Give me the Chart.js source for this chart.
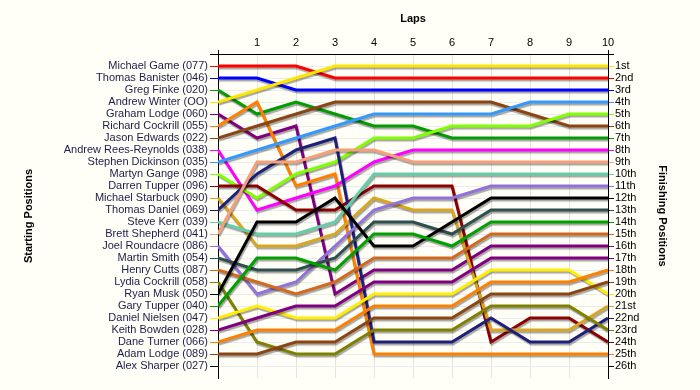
<!DOCTYPE html>
<html>
<head>
<meta charset="utf-8">
<script src="https://cdn.jsdelivr.net/npm/chart.js@4.4.1/dist/chart.umd.min.js"></script>
<style>
  html, body { margin: 0; padding: 0; background: #fffff7; }
  #wrap { width: 700px; height: 390px; }
</style>
</head>
<body>
<div id="wrap"><canvas id="lapChart" width="700" height="390"></canvas></div>
<script>
// 周回ごとの順位 (0 = スタート)
const laps = [0, 1, 2, 3, 4, 5, 6, 7, 8, 9, 10];

const starters = [
  "Michael Game (077)", "Thomas Banister (046)", "Greg Finke (020)", "Andrew Winter (OO)",
  "Graham Lodge (060)", "Richard Cockrill (055)", "Jason Edwards (022)", "Andrew Rees-Reynolds (038)",
  "Stephen Dickinson (035)", "Martyn Gange (098)", "Darren Tupper (096)", "Michael Starbuck (090)",
  "Thomas Daniel (069)", "Steve Kerr (039)", "Brett Shepherd (041)", "Joel Roundacre (086)",
  "Martin Smith (054)", "Henry Cutts (087)", "Lydia Cockrill (058)", "Ryan Musk (050)",
  "Gary Tupper (040)", "Daniel Nielsen (047)", "Keith Bowden (028)", "Dane Turner (066)",
  "Adam Lodge (089)", "Alex Sharper (027)"
];

const finishLabels = [
  "1st", "2nd", "3rd", "4th", "5th", "6th", "7th", "8th", "9th", "10th", "11th", "12th", "13th",
  "14th", "15th", "16th", "17th", "18th", "19th", "20th", "21st", "22nd", "23rd", "24th", "25th", "26th"
];

// スタート順に並べた各ドライバーの順位
const lapPositions = [
  [1, 1, 1, 2, 2, 2, 2, 2, 2, 2, 2],
  [2, 2, 3, 3, 3, 3, 3, 3, 3, 3, 3],
  [3, 5, 4, 5, 6, 6, 7, 7, 7, 7, 7],
  [4, 3, 2, 1, 1, 1, 1, 1, 1, 1, 1],
  [5, 7, 6, 20, 18, 18, 18, 16, 16, 16, 16],
  [6, 4, 11, 10, 25, 25, 25, 25, 25, 25, 25],
  [7, 6, 5, 4, 4, 4, 4, 4, 5, 6, 6],
  [8, 13, 12, 11, 9, 8, 8, 8, 8, 8, 8],
  [9, 8, 7, 6, 5, 5, 5, 5, 4, 4, 4],
  [10, 12, 10, 9, 7, 7, 6, 6, 6, 5, 5],
  [11, 11, 13, 13, 11, 11, 11, 24, 22, 22, 24],
  [12, 16, 16, 15, 12, 13, 13, 23, 23, 23, 21],
  [13, 10, 8, 7, 24, 24, 24, 22, 24, 24, 22],
  [14, 15, 15, 14, 10, 10, 10, 10, 10, 10, 10],
  [15, 9, 9, 8, 8, 9, 9, 9, 9, 9, 9],
  [16, 20, 19, 16, 13, 12, 12, 11, 11, 11, 11],
  [17, 18, 18, 17, 14, 14, 15, 13, 13, 13, 13],
  [18, 19, 20, 19, 17, 17, 17, 15, 15, 15, 15],
  [19, 24, 25, 25, 23, 23, 23, 21, 21, 21, 23],
  [20, 14, 14, 12, 16, 16, 14, 12, 12, 12, 12],
  [21, 17, 17, 18, 15, 15, 16, 14, 14, 14, 14],
  [22, 21, 22, 22, 20, 20, 20, 18, 18, 18, 20],
  [23, 22, 21, 21, 19, 19, 19, 17, 17, 17, 17],
  [24, 23, 23, 23, 21, 21, 21, 19, 19, 19, 18],
  [25, 25, 24, 24, 22, 22, 22, 20, 20, 20, 19]
];

const lineColors = [
  "#ff0000", "#0000ff", "#009c00", "#ffe600", "#800080", "#ff8000", "#8b4513", "#ff00ff",
  "#3399ff", "#80ff00", "#8b0000", "#daa520", "#1f1f7a", "#66cdaa", "#f4a07a", "#9370db",
  "#2f4f4f", "#d2691e", "#808000", "#000000", "#00a000", "#ffee00", "#800080", "#ff8000",
  "#8b4513"
];

// ゴール順位ごとの色 (右側の目盛り)
const finishColors = finishLabels.map((_, i) => {
  const d = lapPositions.findIndex(p => p[p.length - 1] === i + 1);
  return d >= 0 ? lineColors[d] : "#000000";
});

const datasets = lapPositions.map((pos, i) => ({
  label: starters[i],
  data: laps.map((lap, j) => ({ x: lap, y: pos[j] })),
  borderColor: lineColors[i],
  borderWidth: 3,
  pointRadius: 0,
  tension: 0,
  fill: false,
  order: lapPositions.length - i
}));

// 線に影をつける
const shadowPlugin = {
  id: "shadow",
  beforeDatasetsDraw(chart) {
    const c = chart.ctx;
    c.save();
    c.shadowColor = "rgba(0,0,0,0.35)";
    c.shadowOffsetX = 1;
    c.shadowOffsetY = 2;
    c.shadowBlur = 1;
  },
  afterDatasetsDraw(chart) {
    chart.ctx.restore();
  }
};

const rowTicks = axis => {
  axis.ticks = [];
  for (let v = 0; v <= starters.length; v++) axis.ticks.push({ value: v });
};

const ctx = document.getElementById("lapChart").getContext("2d");
new Chart(ctx, {
  type: "line",
  data: { datasets },
  plugins: [shadowPlugin],
  options: {
    responsive: false,
    animation: false,
    layout: { padding: { bottom: 12 } },
    plugins: { legend: { display: false }, tooltip: { enabled: false } },
    scales: {
      x: {
        type: "linear",
        position: "top",
        min: 0,
        max: 10,
        afterFit: axis => { axis.height = 54; },
        ticks: {
          stepSize: 1,
          padding: 0,
          color: "#000",
          font: { family: "Liberation Sans, Arial", size: 11 },
          callback: v => (v === 0 ? "" : v)
        },
        grid: {
          color: "#e4e4e4",
          tickLength: 4,
          tickColor: c => (c.index === 0 || c.index === 10 ? "#000" : "rgba(0,0,0,0)")
        },
        border: { color: "#000", width: 1 },
        title: {
          display: true,
          text: "Laps",
          color: "#000",
          font: { family: "Liberation Sans, Arial", size: 11, weight: "bold" },
          padding: { top: 12, bottom: 0 }
        }
      },
      y: {
        type: "linear",
        position: "left",
        reverse: true,
        min: 0,
        max: 27,
        afterBuildTicks: rowTicks,
        afterFit: axis => { axis.width = 218; },
        ticks: {
          autoSkip: false,
          padding: 2,
          color: "#1c1c4a",
          font: { family: "Liberation Sans, Arial", size: 11 },
          callback: v => (v >= 1 ? starters[v - 1] : "")
        },
        grid: {
          color: c => (c.index === 0 ? "rgba(0,0,0,0)" : "#ececec"),
          tickLength: 8,
          tickColor: c => {
            const v = c.tick ? c.tick.value : 0;
            return v >= 1 && v <= lineColors.length ? lineColors[v - 1] : "#000";
          }
        },
        border: { color: "#000", width: 1 },
        title: {
          display: true,
          text: "Starting Positions",
          color: "#000",
          font: { family: "Liberation Sans, Arial", size: 11, weight: "bold" },
          padding: { top: 22, bottom: 0 }
        }
      },
      y2: {
        type: "linear",
        position: "right",
        reverse: true,
        min: 0,
        max: 27,
        afterBuildTicks: rowTicks,
        afterFit: axis => { axis.width = 92; },
        ticks: {
          autoSkip: false,
          padding: 1,
          color: "#000",
          font: { family: "Liberation Sans, Arial", size: 11 },
          callback: v => (v >= 1 ? finishLabels[v - 1] : "")
        },
        grid: {
          drawOnChartArea: false,
          tickLength: 6,
          tickColor: c => {
            const v = c.tick ? c.tick.value : 0;
            return v >= 1 ? finishColors[v - 1] : "#000";
          }
        },
        border: { color: "#000", width: 1 },
        title: {
          display: true,
          text: "Finishing Positions",
          color: "#000",
          font: { family: "Liberation Sans, Arial", size: 11, weight: "bold" },
          padding: { top: 31, bottom: 0 }
        }
      }
    }
  }
});
</script>
</body>
</html>
